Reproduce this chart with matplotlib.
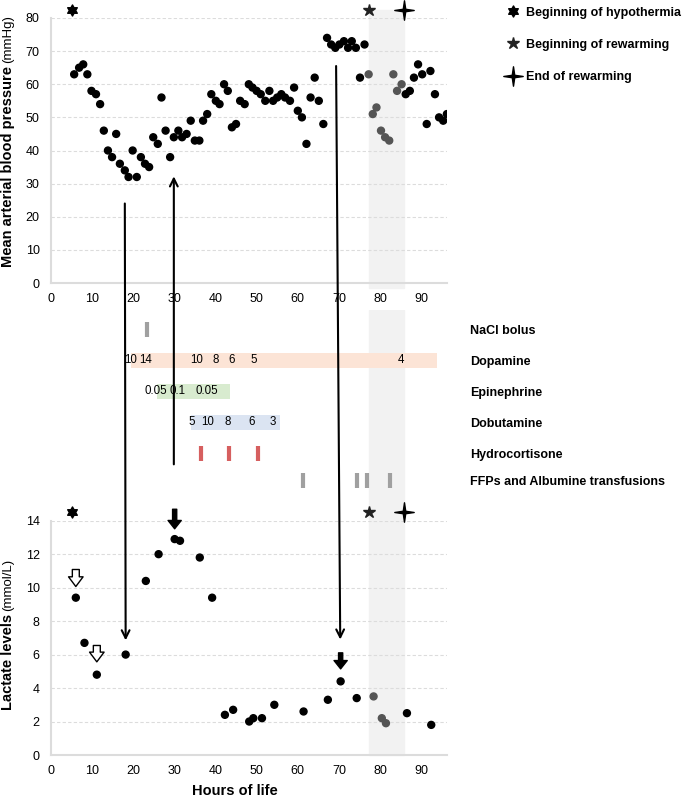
import matplotlib.pyplot as plt
import numpy as np
from matplotlib.lines import Line2D
from matplotlib.patches import ConnectionPatch
from matplotlib.path import Path

plt.rcParams['font.family'] = ['Liberation Sans', 'DejaVu Sans']

# Mean arterial blood pressure (mmHg) by hour of life
map_hours = [5.7, 6.9, 7.9, 8.9, 9.9, 11.0, 12.0, 12.9, 13.9, 14.9, 15.9, 16.8, 18.0, 18.9,
             19.9, 20.9, 21.9, 22.9, 23.9, 24.9, 26.0, 26.9, 27.9, 29.0, 29.9, 31.0, 31.9,
             33.0, 34.0, 35.0, 36.1, 37.0, 38.0, 39.0, 40.1, 41.0, 42.1, 43.0, 44.0, 45.0,
             46.0, 47.1, 48.1, 49.0, 50.0, 51.0, 52.1, 53.1, 54.0, 55.0, 56.0, 56.9, 58.1,
             59.1, 60.0, 61.0, 62.1, 63.1, 64.1, 65.1, 66.2, 67.1, 68.1, 69.1, 70.1, 71.2,
             72.2, 73.1, 74.1, 75.1, 76.2, 77.2, 78.2, 79.1, 80.2, 81.2, 82.2, 83.2, 84.1,
             85.2, 86.2, 87.2, 88.2, 89.2, 90.2, 91.3, 92.2, 93.3, 94.3, 95.3, 96.2]
map_values = [63, 65, 66, 63, 58, 57, 54, 46, 40, 38, 45, 36, 34, 32,
              40, 32, 38, 36, 35, 44, 42, 56, 46, 38, 44, 46, 44,
              45, 49, 43, 43, 49, 51, 57, 55, 54, 60, 58, 47, 48,
              55, 54, 60, 59, 58, 57, 55, 58, 55, 56, 57, 56, 55,
              59, 52, 50, 42, 56, 62, 55, 48, 74, 72, 71, 72, 73,
              71, 73, 71, 62, 72, 63, 51, 53, 46, 44, 43, 63, 58,
              60, 57, 58, 62, 66, 63, 48, 64, 57, 50, 49, 51]

# Lactate levels (mmol/L)
lac_hours = [6.1, 8.2, 11.2, 18.2, 23.1, 26.2, 30.1, 31.4, 36.2, 39.2, 42.3, 44.3, 48.2,
             49.2, 51.3, 54.3, 61.4, 67.3, 70.4, 74.3, 78.4, 80.4, 81.4, 86.5, 92.4]
lac_values = [9.4, 6.7, 4.8, 6.0, 10.4, 12.0, 12.9, 12.8, 11.8, 9.4, 2.4, 2.7, 2.0,
              2.2, 2.2, 3.0, 2.6, 3.3, 4.4, 3.4, 3.5, 2.2, 1.9, 2.5, 1.8]

# events
hypo_start = 5.1
rewarm_start = 77.2
rewarm_end = 85.9

# treatments
treat_labels = ['NaCl bolus', 'Dopamine', 'Epinephrine', 'Dobutamine', 'Hydrocortisone',
                'FFPs and Albumine transfusions']
nacl_hours = [23.4]
dopamine_span = [19.4, 93.7]
dopamine_hours = [19.4, 23.1, 35.4, 40.1, 43.9, 49.3, 85.0]
dopamine_doses = ['10', '14', '10', '8', '6', '5', '4']
epi_span = [25.9, 43.5]
epi_hours = [25.6, 30.8, 37.9]
epi_doses = ['0.05', '0.1', '0.05']
dobu_span = [34.05, 55.6]
dobu_hours = [34.3, 38.0, 43.0, 48.9, 53.9]
dobu_doses = ['5', '10', '8', '6', '3']
hydro_hours = [36.5, 43.3, 50.3]
ffp_hours = [61.2, 74.3, 76.9, 82.5]

# markers
hex_star = Path.unit_regular_star(6, 0.57)
spark = Path.unit_regular_star(4, 0.18)
band_col = '#f2f2f2'
grid_col = '#dcdcdc'

fig = plt.figure(figsize=(6.85, 8), dpi=100)
ax1 = fig.add_axes([0.0740, 0.64625, 0.5790, 0.33125])
ax2 = fig.add_axes([0.0740, 0.375, 0.5790, 0.2375])
ax3 = fig.add_axes([0.0740, 0.05625, 0.5790, 0.29288])

xmax = 96.3

def style_axis(ax, ymax, step):
    ax.set_xlim(0, xmax)
    ax.set_ylim(0, ymax)
    ax.set_xticks(np.arange(0, 91, 10))
    ax.set_yticks(np.arange(0, ymax + 1, step))
    for s in ['top', 'right']:
        ax.spines[s].set_visible(False)
    for s in ['left', 'bottom']:
        ax.spines[s].set_color(grid_col)
        ax.spines[s].set_linewidth(1.5)
    ax.yaxis.grid(True, color=grid_col, linestyle=(0, (3, 2)), linewidth=0.8)
    ax.set_axisbelow(True)
    ax.tick_params(length=0, labelsize=9)
    ax.tick_params(axis='y', pad=8)
    ax.tick_params(axis='x', pad=7)

# ---- top: blood pressure
style_axis(ax1, 80, 10)
ax1.axvspan(rewarm_start, rewarm_end, ymin=-0.019, ymax=1.03, color=band_col, zorder=0, clip_on=False)
h = np.array(map_hours)
cols = np.where((h > rewarm_start - 0.5) & (h < rewarm_end), '#555555', 'black')
ax1.scatter(map_hours, map_values, s=25, c=cols, zorder=3)
ax1.plot([hypo_start], [82.5], marker=hex_star, ms=8, color='black', clip_on=False)
ax1.plot([rewarm_start], [82.5], marker='*', ms=9, color='#222222', clip_on=False)
ax1.plot([rewarm_end], [82.5], marker=spark, ms=14, color='black', clip_on=False)

# ---- middle: treatments
ax2.set_xlim(0, xmax)
ax2.set_ylim(5.5, -0.629)
for s in ax2.spines.values():
    s.set_visible(False)
ax2.set_xticks([])
ax2.yaxis.tick_right()
ax2.set_yticks([0, 1, 2, 3, 4, 4.87])
ax2.set_yticklabels(treat_labels, fontsize=9, fontweight='bold')
ax2.tick_params(axis='y', length=0, pad=16.3)
ax2.axvspan(rewarm_start, rewarm_end, color=band_col, zorder=0)

ax2.barh(1, dopamine_span[1] - dopamine_span[0], left=dopamine_span[0], height=0.5,
         color='#fce4d6', zorder=1)
ax2.barh(2, epi_span[1] - epi_span[0], left=epi_span[0], height=0.5, color='#d8ebcf', zorder=1)
ax2.barh(3, dobu_span[1] - dobu_span[0], left=dobu_span[0], height=0.5, color='#dbe4f2', zorder=1)
for x, t in zip(dopamine_hours, dopamine_doses):
    ax2.text(x, 1, t, ha='center', va='center', fontsize=8.3, zorder=3)
for x, t in zip(epi_hours, epi_doses):
    ax2.text(x, 2, t, ha='center', va='center', fontsize=8.3, zorder=3)
for x, t in zip(dobu_hours, dobu_doses):
    ax2.text(x, 3, t, ha='center', va='center', fontsize=8.3, zorder=3)
ax2.vlines(nacl_hours, -0.25, 0.25, color='#a0a0a0', lw=3)
ax2.vlines(hydro_hours, 3.75, 4.25, color='#d65f5f', lw=3)
ax2.vlines(ffp_hours, 4.62, 5.12, color='#a0a0a0', lw=3)

# ---- bottom: lactate
style_axis(ax3, 14, 2)
ax3.axvspan(rewarm_start, rewarm_end, ymin=0, ymax=1.088, color=band_col, zorder=0, clip_on=False)
lh = np.array(lac_hours)
lcols = np.where((lh > rewarm_start) & (lh < rewarm_end), '#555555', 'black')
ax3.scatter(lac_hours, lac_values, s=25, c=lcols, zorder=3)
ax3.plot([hypo_start], [14.5], marker=hex_star, ms=8, color='black', clip_on=False)
ax3.plot([rewarm_start], [14.5], marker='*', ms=9, color='#222222', clip_on=False)
ax3.plot([rewarm_end], [14.5], marker=spark, ms=14, color='black', clip_on=False)
ax3.set_xlabel('Hours of life', fontsize=10.5, fontweight='bold')
ax3.xaxis.set_label_coords(0.465, -0.125)

solid = 'simple,head_width=0.95,head_length=0.6,tail_width=0.3'
hollow = 'simple,head_width=1.05,head_length=0.7,tail_width=0.5'
ax3.annotate('', xy=(30.1, 13.35), xytext=(30.1, 14.85), annotation_clip=False,
             arrowprops=dict(arrowstyle=solid, fc='black', ec='black'))
ax3.annotate('', xy=(70.4, 4.98), xytext=(70.4, 6.27), annotation_clip=False,
             arrowprops=dict(arrowstyle=solid, fc='black', ec='black'))
ax3.annotate('', xy=(6.1, 9.9), xytext=(6.1, 11.25), annotation_clip=False,
             arrowprops=dict(arrowstyle=hollow, fc='white', ec='black', lw=1))
ax3.annotate('', xy=(11.2, 5.4), xytext=(11.2, 6.71), annotation_clip=False,
             arrowprops=dict(arrowstyle=hollow, fc='white', ec='black', lw=1))

# long arrows linking the panels
links = [((18.0, 24), ax1, (18.2, 6.85), ax3),
         ((29.9, 4.35), ax2, (29.9, 32.2), ax1),
         ((69.3, 65.5), ax1, (70.3, 6.9), ax3)]
for a, axa, b, axb in links:
    con = ConnectionPatch(xyA=a, coordsA='data', axesA=axa, xyB=b, coordsB='data', axesB=axb,
                          arrowstyle='->', lw=1.5, color='black', mutation_scale=14,
                          shrinkA=0, shrinkB=0, zorder=5)
    fig.add_artist(con)

# y labels: bold part + regular units
def two_part_label(x, y, bold, light):
    t = fig.text(x, y, bold, rotation=90, rotation_mode='anchor', ha='left', va='center',
                 fontsize=10.5, fontweight='bold')
    fig.canvas.draw()
    bb = t.get_window_extent()
    fig.text(x, (bb.y1 + 3) / fig.bbox.height, light, rotation=90, rotation_mode='anchor',
             ha='left', va='center', fontsize=9.5)

two_part_label(0.0121, 1 - 267 / 800, 'Mean arterial blood pressure', '(mmHg)')
two_part_label(0.0121, 1 - 710 / 800, 'Lactate levels', '(mmol/L)')

# legend
handles = [Line2D([], [], marker=hex_star, ms=8, color='black', linestyle='none'),
           Line2D([], [], marker='*', ms=9, color='#222222', linestyle='none'),
           Line2D([], [], marker=spark, ms=14, color='black', linestyle='none')]
labels = ['Beginning of hypothermia', 'Beginning of rewarming', 'End of rewarming']
fig.legend(handles, labels, loc='upper left', bbox_to_anchor=(0.733, 0.998), frameon=False,
           prop={'weight': 'bold', 'size': 9}, labelspacing=1.62, handlelength=1,
           handletextpad=0.55, borderaxespad=0, borderpad=0.4)

fig.savefig('out.png', dpi=100)
